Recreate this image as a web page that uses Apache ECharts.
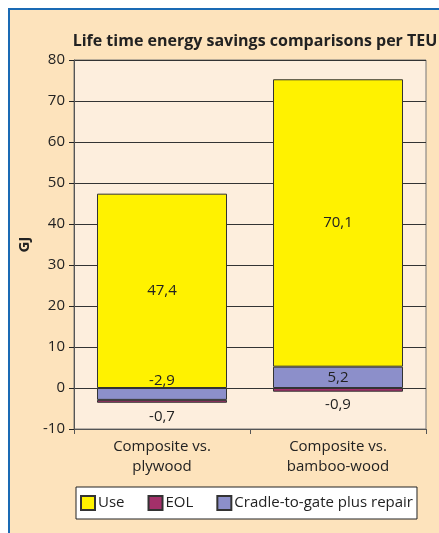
<!DOCTYPE html>
<html>
<head>
<meta charset="utf-8">
<script src="https://cdn.jsdelivr.net/npm/echarts@6/dist/echarts.min.js"></script>
<style>
  html, body { margin: 0; padding: 0; background: #fff; }
  #chart { width: 439px; height: 533px; }
</style>
</head>
<body>
<div id="chart"></div>
<script>
// data
const categories = ['Composite vs.\nplywood', 'Composite vs.\nbamboo-wood'];
const useValues = [47.4, 70.1];
const eolValues = [-0.7, -0.9];
const cradleValues = [-2.9, 5.2];
const legendNames = ['Use', 'EOL', 'Cradle-to-gate plus repair'];

const font = 'Open Sans';
const comma = p => String(p.value).replace('.', ',');

const chart = echarts.init(document.getElementById('chart'), null, { renderer: 'canvas' });

const barBase = {
  type: 'bar',
  stack: 'total',
  barWidth: 130,
  itemStyle: { borderColor: '#333', borderWidth: 1 }
};

chart.setOption({
  animation: false,
  backgroundColor: '#fff',
  textStyle: { fontFamily: font },
  graphic: [
    {
      type: 'rect', z: -10, silent: true,
      shape: { x: 9, y: 9, width: 440, height: 540 },
      style: { fill: '#fde3bc', stroke: '#1a6ab4', lineWidth: 2 }
    }
  ],
  title: {
    text: 'Life time energy savings comparisons per TEU',
    left: 250, top: 28, textAlign: 'center',
    textStyle: { fontFamily: font, fontSize: 16, fontWeight: 'bold', color: '#222' }
  },
  legend: {
    data: legendNames,
    left: 76, top: 487, width: 349, height: 33,
    padding: [8, 4, 8, 4],
    backgroundColor: '#fff', borderColor: '#222', borderWidth: 1,
    itemWidth: 14, itemHeight: 14, itemGap: 23,
    icon: 'rect',
    textStyle: { fontFamily: font, fontSize: 15, color: '#222', padding: [0, 0, 0, -2] }
  },
  grid: {
    left: 74, top: 60, right: 13, bottom: 104,
    show: true, backgroundColor: '#fdeedd', borderColor: '#777', borderWidth: 1
  },
  xAxis: {
    type: 'category',
    data: categories,
    axisLine: { onZero: false, lineStyle: { color: '#555' } },
    axisTick: { show: true, length: 5, lineStyle: { color: '#555' } },
    axisLabel: { fontFamily: font, fontSize: 15, color: '#222', lineHeight: 20, margin: 8 }
  },
  yAxis: {
    type: 'value',
    min: -10, max: 80, interval: 10,
    name: 'GJ', nameLocation: 'middle', nameGap: 36,
    nameTextStyle: { fontFamily: font, fontSize: 15, fontWeight: 'bold', color: '#222' },
    axisLine: { show: true, lineStyle: { color: '#555' } },
    axisTick: { show: true, length: 5, lineStyle: { color: '#222' } },
    axisLabel: { fontFamily: font, fontSize: 15, color: '#222', margin: 9 },
    splitLine: { lineStyle: { color: '#333', width: 1 } }
  },
  series: [
    Object.assign({}, barBase, {
      name: 'Cradle-to-gate plus repair',
      color: '#8c8fca',
      data: cradleValues.map((v, i) => ({
        value: v,
        label: { offset: i === 0 ? [0, -13] : [0, 0] }
      })),
      label: { show: true, position: 'inside', formatter: comma, fontFamily: font, fontSize: 15, color: '#222' }
    }),
    Object.assign({}, barBase, {
      name: 'Use',
      color: '#fff200',
      data: useValues,
      label: { show: true, position: 'inside', formatter: comma, fontFamily: font, fontSize: 15, color: '#222' }
    }),
    Object.assign({}, barBase, {
      name: 'EOL',
      color: '#a3306a',
      data: eolValues,
      label: { show: true, position: 'inside', offset: [0, 15], formatter: comma, fontFamily: font, fontSize: 15, color: '#222' }
    })
  ]
});
</script>
</body>
</html>
